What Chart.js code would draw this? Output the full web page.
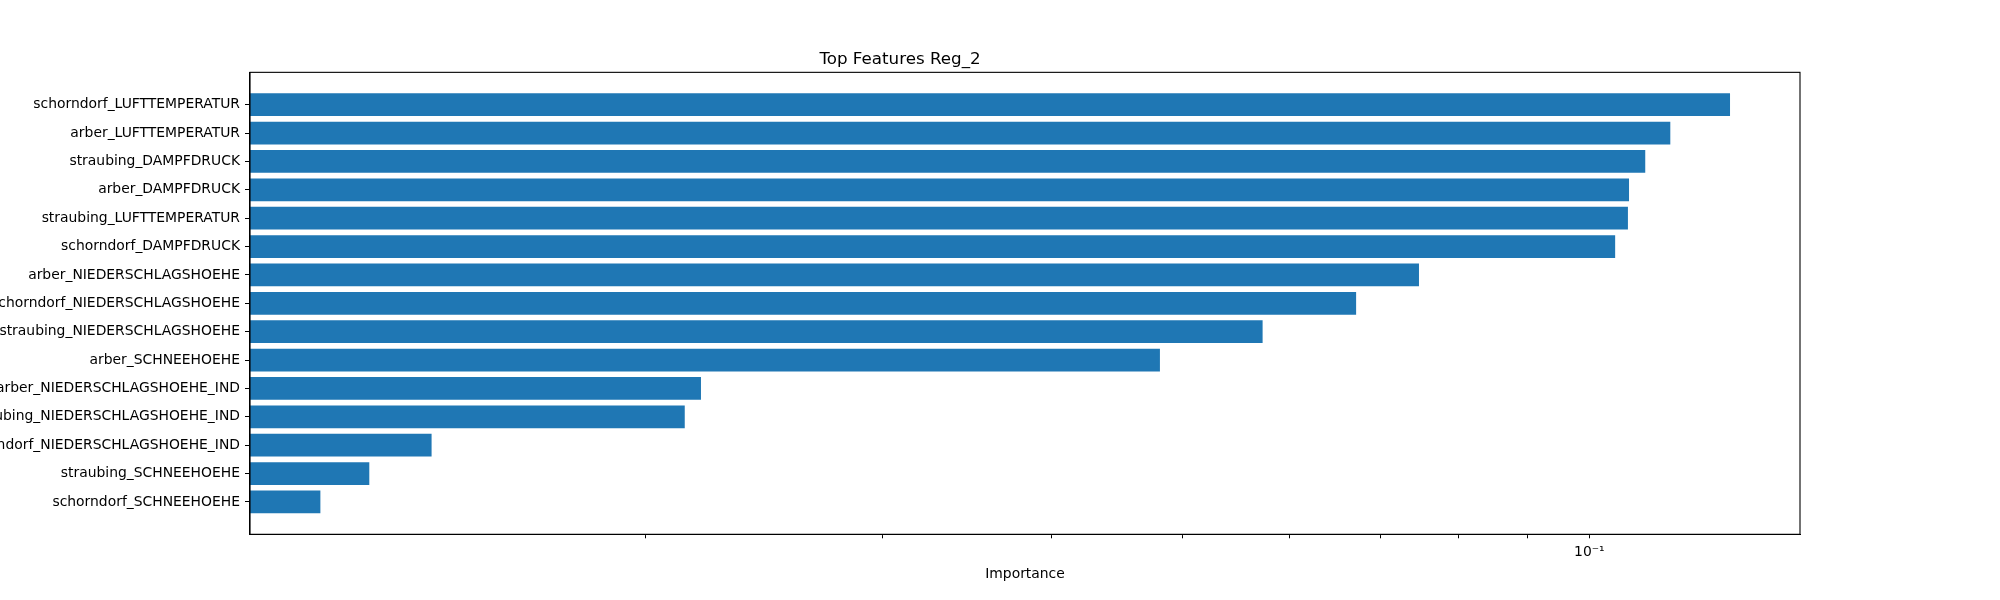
<!DOCTYPE html>
<html lang="en">
<head>
    <meta charset="UTF-8">
    <title>Top Features Reg_2</title>
    <script src="https://cdn.jsdelivr.net/npm/chart.js@4.4.1/dist/chart.umd.min.js"></script>
    <style>
        body {
            margin: 0;
            background-color: white;
            font-family: 'DejaVu Sans', sans-serif;
        }
        .chart-box {
            width: 2000px;
            height: 600px;
        }
    </style>
</head>
<body>
    <div class="chart-box">
        <canvas id="featureChart"></canvas>
    </div>

    <script>
        // feature names, top to bottom
        const featureNames = [
            'schorndorf_LUFTTEMPERATUR',
            'arber_LUFTTEMPERATUR',
            'straubing_DAMPFDRUCK',
            'arber_DAMPFDRUCK',
            'straubing_LUFTTEMPERATUR',
            'schorndorf_DAMPFDRUCK',
            'arber_NIEDERSCHLAGSHOEHE',
            'schorndorf_NIEDERSCHLAGSHOEHE',
            'straubing_NIEDERSCHLAGSHOEHE',
            'arber_SCHNEEHOEHE',
            'arber_NIEDERSCHLAGSHOEHE_IND',
            'straubing_NIEDERSCHLAGSHOEHE_IND',
            'schorndorf_NIEDERSCHLAGSHOEHE_IND',
            'straubing_SCHNEEHOEHE',
            'schorndorf_SCHNEEHOEHE'
        ];

        const importance = [
            0.1271, 0.1148, 0.1100, 0.1070, 0.1068, 0.1045,
            0.0748, 0.0672, 0.0573, 0.0481,
            0.0220, 0.0214, 0.0139, 0.0125, 0.0115
        ];

        // x axis ticks (log scale), only 10^-1 gets a label
        const xTickValues = [0.02, 0.03, 0.04, 0.05, 0.06, 0.07, 0.08, 0.09, 0.1];
        const xTickLabels = ['', '', '', '', '', '', '', '', '10\u207B\u00B9'];

        const FONT = "'DejaVu Sans', sans-serif";

        // draw the box around the plot area like matplotlib spines
        const frameBox = {
            id: 'frameBox',
            afterDraw(chart) {
                const { ctx, chartArea } = chart;
                ctx.save();
                ctx.strokeStyle = 'black';
                ctx.lineWidth = 1.1;
                ctx.strokeRect(chartArea.left, chartArea.top,
                    chartArea.right - chartArea.left, chartArea.bottom - chartArea.top);
                ctx.restore();
            }
        };

        const ctx = document.getElementById('featureChart').getContext('2d');

        new Chart(ctx, {
            type: 'bar',
            data: {
                datasets: [{
                    label: 'Importance',
                    data: importance.map((v, i) => ({ x: v, y: i })),
                    backgroundColor: '#1f77b4',
                    borderWidth: 0,
                    categoryPercentage: 1.0,
                    barPercentage: 0.8
                }]
            },
            plugins: [frameBox],
            options: {
                indexAxis: 'y',
                responsive: true,
                maintainAspectRatio: false,
                animation: false,
                layout: {
                    padding: { left: 0, right: 200, top: 0, bottom: 0 }
                },
                plugins: {
                    legend: { display: false },
                    tooltip: { enabled: false },
                    title: {
                        display: true,
                        text: 'Top Features Reg_2',
                        color: 'black',
                        font: { family: FONT, size: 16.7, weight: 'normal', lineHeight: 1.2 },
                        padding: { top: 50, bottom: 2.3 }
                    }
                },
                scales: {
                    x: {
                        type: 'logarithmic',
                        position: 'bottom',
                        min: 0.0102,
                        max: 0.1432,
                        grid: {
                            drawOnChartArea: false,
                            drawTicks: true,
                            tickLength: 4,
                            tickColor: 'black'
                        },
                        border: { color: 'black', width: 1.1 },
                        afterBuildTicks: (axis) => {
                            axis.ticks = xTickValues.map(v => ({ value: v }));
                        },
                        afterFit: (axis) => {
                            axis.height = 65.7;
                        },
                        ticks: {
                            autoSkip: false,
                            maxRotation: 0,
                            padding: 6,
                            color: 'black',
                            font: { family: FONT, size: 13.9 },
                            callback: (value, index) => xTickLabels[index]
                        },
                        title: {
                            display: true,
                            text: 'Importance',
                            color: 'black',
                            font: { family: FONT, size: 13.9, lineHeight: 1.2 },
                            padding: { top: 0, bottom: 17.6 }
                        }
                    },
                    y: {
                        type: 'linear',
                        reverse: true,
                        offset: false,
                        min: -1.14,
                        max: 15.14,
                        grid: {
                            offset: false,
                            drawOnChartArea: false,
                            drawTicks: true,
                            tickLength: 5,
                            tickColor: 'black'
                        },
                        border: { color: 'black', width: 1.1 },
                        afterBuildTicks: (axis) => {
                            axis.ticks = featureNames.map((_, i) => ({ value: i }));
                        },
                        afterFit: (axis) => {
                            axis.width = 250;
                        },
                        ticks: {
                            autoSkip: false,
                            padding: 5,
                            color: 'black',
                            font: { family: FONT, size: 13.9 },
                            callback: (value) => featureNames[value]
                        }
                    }
                }
            }
        });
    </script>
</body>
</html>
